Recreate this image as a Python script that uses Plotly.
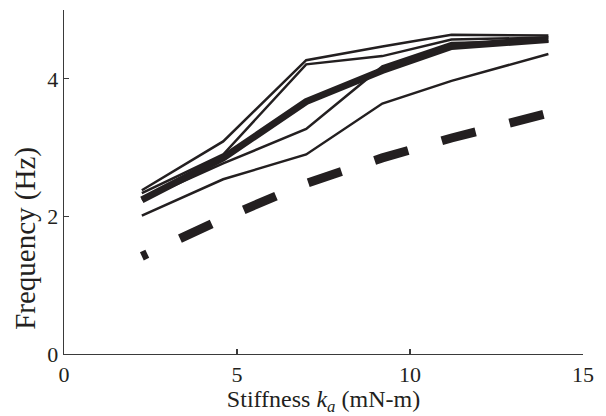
import plotly.graph_objects as go

# Stiffness values (mN-m)
stiffness = [2.25, 4.6, 7.0, 9.2, 11.2, 14.0]

# Individual runs (thin lines), Hz
run_1 = [2.38, 3.09, 4.27, 4.47, 4.64, 4.63]
run_2 = [2.34, 2.90, 4.21, 4.33, 4.57, 4.60]
run_3 = [2.24, 2.77, 3.27, 4.18, 4.52, 4.55]
run_4 = [2.01, 2.54, 2.90, 3.64, 3.97, 4.36]
runs = [run_1, run_2, run_3, run_4]

# Mean (thick line) and model (thick dashed)
mean_freq = [2.24, 2.85, 3.67, 4.12, 4.47, 4.57]
model_freq = [1.42, 1.97, 2.48, 2.85, 3.14, 3.50]

x_ticks = [0, 5, 10, 15]
y_ticks = [0, 2, 4]
x_title = "Stiffness <i>k</i><sub><i>a</i></sub> (mN-m)"
y_title = "Frequency (Hz)"

INK = "#231f20"
FONT = "Liberation Serif"

fig = go.Figure()
for r in runs:
    fig.add_trace(go.Scatter(x=stiffness, y=r, mode="lines", hoverinfo="skip",
                             line=dict(color=INK, width=2.5), showlegend=False))
fig.add_trace(go.Scatter(x=stiffness, y=mean_freq, mode="lines", hoverinfo="skip",
                         line=dict(color=INK, width=7), showlegend=False))
fig.add_trace(go.Scatter(
    x=stiffness, y=model_freq, mode="lines", hoverinfo="skip",
    line=dict(color=INK, width=9,
              dash="6px,36px,35px,35px,35px,35px,35px,35px,35px,35px,35px,35px,35px,35px"),
    showlegend=False))

axis_common = dict(
    showgrid=False, zeroline=False, showline=True, automargin=False,
    linecolor="#3a3a3a", linewidth=1.3,
    ticks="inside", ticklen=5, tickwidth=1.3, tickcolor="#3a3a3a",
    tickfont=dict(family=FONT, size=22, color=INK),
)

fig.update_layout(
    width=606, height=416,
    margin=dict(l=64, r=23, t=10, b=62),
    paper_bgcolor="white", plot_bgcolor="white",
    xaxis=dict(range=[0, 15], tickvals=x_ticks,
               title=dict(text=x_title,
                          font=dict(family=FONT, size=24, color=INK), standoff=2),
               **axis_common),
    yaxis=dict(range=[0, 5], tickvals=y_ticks, **axis_common),
    annotations=[dict(
        text=y_title, textangle=-90, showarrow=False,
        xref="paper", yref="paper", x=-0.073, y=0.335,
        xanchor="center", yanchor="middle",
        font=dict(family=FONT, size=29, color=INK),
    )],
)

fig.write_html("out.html", config={"displayModeBar": False, "staticPlot": True},
               post_script="document.body.style.margin='0';document.body.style.overflow='hidden';")
